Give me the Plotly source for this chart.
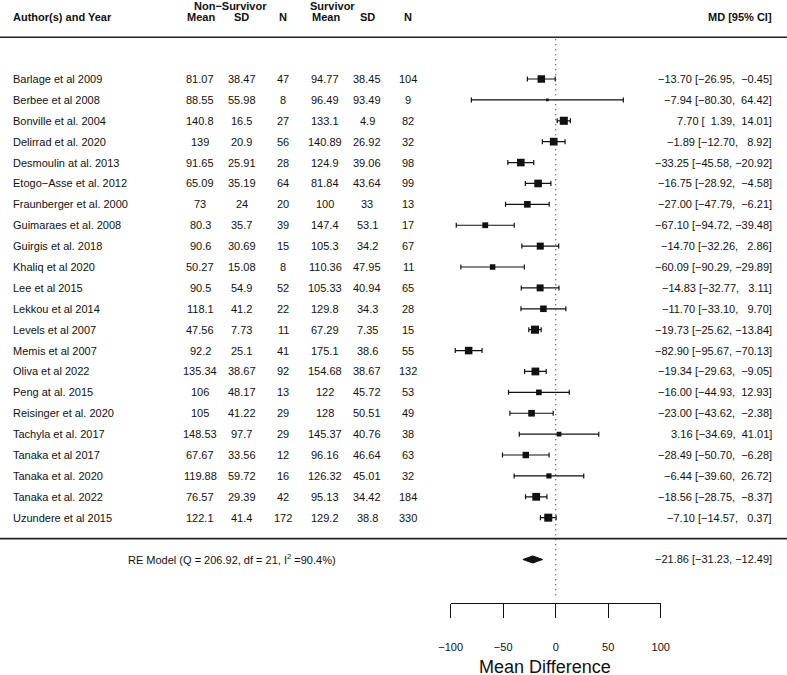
import numpy as np
import plotly.graph_objects as go

# ---------------- data ----------------
authors = [
    "Barlage et al 2009", "Berbee et al 2008", "Bonville et al. 2004", "Delirrad et al. 2020",
    "Desmoulin at al. 2013", "Etogo\u2212Asse et al. 2012", "Fraunberger et al. 2000",
    "Guimaraes et al. 2008", "Guirgis et al. 2018", "Khaliq et al 2020", "Lee et al 2015",
    "Lekkou et al 2014", "Levels et al 2007", "Memis et al 2007", "Oliva et al 2022",
    "Peng at al. 2015", "Reisinger et al. 2020", "Tachyla et al. 2017", "Tanaka et al 2017",
    "Tanaka et al. 2020", "Tanaka et al. 2022", "Uzundere et al 2015",
]
ns_mean = [81.07, 88.55, 140.8, 139, 91.65, 65.09, 73, 80.3, 90.6, 50.27, 90.5, 118.1,
           47.56, 92.2, 135.34, 106, 105, 148.53, 67.67, 119.88, 76.57, 122.1]
ns_sd = [38.47, 55.98, 16.5, 20.9, 25.91, 35.19, 24, 35.7, 30.69, 15.08, 54.9, 41.2,
         7.73, 25.1, 38.67, 48.17, 41.22, 97.7, 33.56, 59.72, 29.39, 41.4]
ns_n = [47, 8, 27, 56, 28, 64, 20, 39, 15, 8, 52, 22, 11, 41, 92, 13, 29, 29, 12, 16, 42, 172]
s_mean = [94.77, 96.49, 133.1, 140.89, 124.9, 81.84, 100, 147.4, 105.3, 110.36, 105.33, 129.8,
          67.29, 175.1, 154.68, 122, 128, 145.37, 96.16, 126.32, 95.13, 129.2]
s_sd = [38.45, 93.49, 4.9, 26.92, 39.06, 43.64, 33, 53.1, 34.2, 47.95, 40.94, 34.3,
        7.35, 38.6, 38.67, 45.72, 50.51, 40.76, 46.64, 45.01, 34.42, 38.8]
s_n = [104, 9, 82, 32, 98, 99, 13, 17, 67, 11, 65, 28, 15, 55, 132, 53, 49, 38, 63, 32, 184, 330]

re_est, re_lo, re_hi = -21.86, -31.23, -12.49
re_Q, re_df, re_I2 = 206.92, 21, 90.4

tick_vals = [-100, -50, 0, 50, 100]
x_title = "Mean Difference"

# ---------------- derived ----------------
m1, s1, n1 = map(np.array, (ns_mean, ns_sd, ns_n))
m2, s2, n2 = map(np.array, (s_mean, s_sd, s_n))
est = m1 - m2
vi = s1**2 / n1 + s2**2 / n2
se = np.sqrt(vi)
z = 1.959964
lo = est - z * se
hi = est + z * se

# random-effects weights (DL) for square sizes
w = 1 / vi
Qc = np.sum(w * (est - np.sum(w * est) / np.sum(w))**2)
k = len(est)
tau2 = max(0.0, (Qc - (k - 1)) / (np.sum(w) - np.sum(w**2) / np.sum(w)))
wr = 1 / (vi + tau2)
p = wr / wr.sum()
psize = (p - p.min()) / (p.max() - p.min()) + 0.5
msize = psize * 5.4

rows = np.arange(k)

def fnum(v):
    return f"{v:g}"

def fmd(v):
    return f"{v:.2f}".replace("-", "\u2212")

md_labels = [f"{fmd(e):>6} [{fmd(a):>6}, {fmd(b):>6}]" for e, a, b in zip(est, lo, hi)]
re_label = f"{fmd(re_est):>6} [{fmd(re_lo):>6}, {fmd(re_hi):>6}]"

# ---------------- layout constants (px) ----------------
W, H = 787, 675
def px(xp):
    return xp / W

col_author = 11
col_x = [200, 242, 283, 325, 367, 408]
col_md = 774
re_row = 23
hdr_row = -2.97
hdr_top_row = -3.50
TXT = "#111111"

fig = go.Figure()

# study estimates with CIs
fig.add_trace(go.Scatter(
    x=est, y=rows, mode="markers",
    marker=dict(symbol="square", size=msize, color="#111111", opacity=1, line=dict(width=0)),
    error_x=dict(type="data", symmetric=False, array=hi - est, arrayminus=est - lo,
                 color="#111111", thickness=1.2, width=2.5),
    hoverinfo="skip", cliponaxis=False,
))

# summary diamond
h = 0.17
fig.add_trace(go.Scatter(
    x=[re_lo, re_est, re_hi, re_est, re_lo],
    y=[re_row, re_row - h, re_row, re_row + h, re_row],
    mode="lines", fill="toself", fillcolor="#111111",
    line=dict(color="#111111", width=1), hoverinfo="skip", cliponaxis=False,
))

ann = []
def add(text, xp, y, anchor="center", bold=False, size=11):
    ann.append(dict(text=f"<b>{text}</b>" if bold else text, x=px(xp), xref="paper",
                    y=y, yref="y", xanchor=anchor, yanchor="middle", showarrow=False,
                    font=dict(size=size, color=TXT)))

for i in range(k):
    add(authors[i], col_author, i, "left")
    vals = [fnum(ns_mean[i]), fnum(ns_sd[i]), str(ns_n[i]),
            fnum(s_mean[i]), fnum(s_sd[i]), str(s_n[i])]
    for xp, v in zip(col_x, vals):
        add(v, xp, i)
    add(md_labels[i], col_md, i, "right")

# headers
add("Author(s) and Year", col_author, hdr_row, "left", bold=True)
add("Non\u2212Survivor", 230, hdr_top_row, bold=True)
add("Survivor", 332, hdr_top_row, bold=True)
for xp, t in zip(col_x, ["Mean", "SD", "N", "Mean", "SD", "N"]):
    add(t, xp + (1 if t == "Mean" else 0), hdr_row, bold=True)
add("MD [95% CI]", col_md, hdr_row, "right", bold=True)

# RE model row
add(f"RE Model (Q = {re_Q:.2f}, df = {re_df}, I<sup>2</sup> ={re_I2:.1f}%)", 126, re_row, "left")
add(re_label, col_md, re_row, "right")

# axis title
ann.append(dict(text=x_title, x=px(545), xref="paper", y=1 - 667 / H, yref="paper",
                xanchor="center", yanchor="middle", showarrow=False,
                font=dict(size=18, color=TXT)))

shapes = [
    dict(type="line", xref="paper", yref="y", x0=0, x1=1, y0=-2, y1=-2,
         line=dict(color="#222222", width=1.6)),
    dict(type="line", xref="paper", yref="y", x0=0, x1=1, y0=22, y1=22,
         line=dict(color="#222222", width=1.6)),
    dict(type="line", xref="x", yref="y", x0=0, x1=0, y0=-1.9, y1=24.8,
         line=dict(color="#333333", width=1.2, dash="1px,4px")),
]

fig.update_layout(
    template="none",
    width=W, height=H,
    margin=dict(l=0, r=0, t=0, b=0, pad=0, autoexpand=False),
    plot_bgcolor="white", paper_bgcolor="white",
    showlegend=False,
    font=dict(family="Liberation Sans, Arial, sans-serif", size=11, color=TXT),
    xaxis=dict(domain=[450.7 / W, 660.7 / W], range=[-100, 100], anchor="free",
               position=1 - 603 / H, showline=True, linecolor="#111111", linewidth=1.3,
               ticks="outside", ticklen=14, tickwidth=1.3, tickcolor="#111111",
               tickvals=tick_vals, showgrid=False, zeroline=False, automargin=False,
               ticklabelstandoff=20, tickfont=dict(size=11, color=TXT)),
    yaxis=dict(range=[(H - 79) / 20.89, -79 / 20.89], visible=False, domain=[0, 1],
               showgrid=False, zeroline=False, automargin=False),
    annotations=ann,
    shapes=shapes,
)

fig.write_html(
    "out.html",
    config={"displayModeBar": False},
    post_script="document.body.style.margin='0px';document.body.style.overflow='hidden';",
)
